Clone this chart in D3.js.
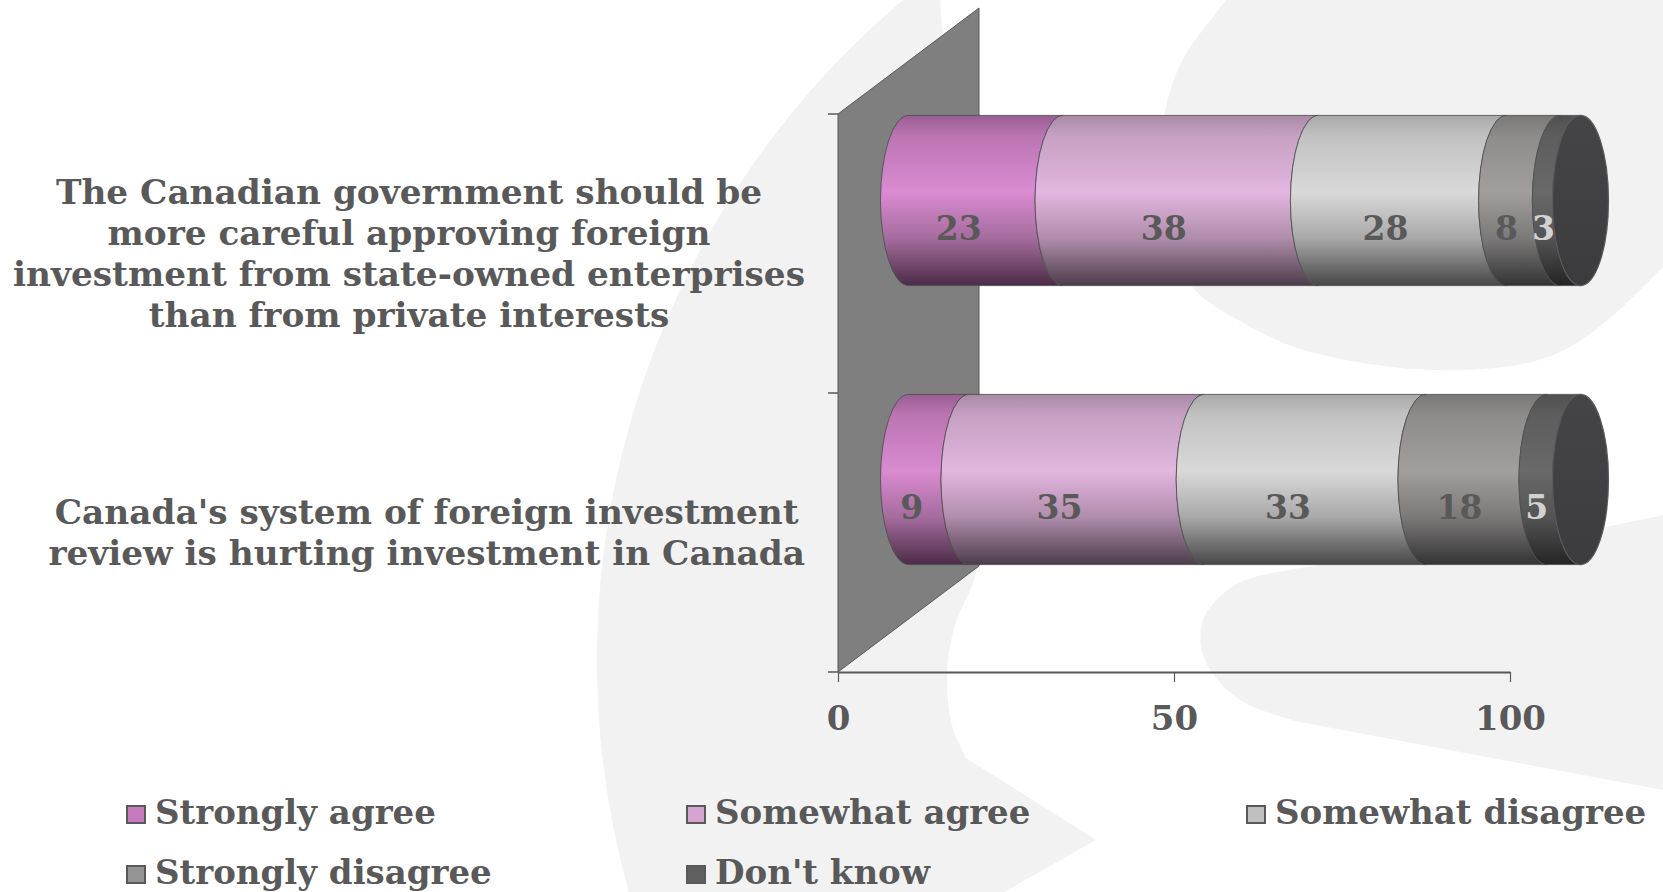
<!DOCTYPE html>
<html>
<head>
<meta charset="utf-8">
<script src="https://cdn.jsdelivr.net/npm/d3@7"></script>
<style>
  html, body { margin: 0; padding: 0; background: #ffffff; }
  svg { display: block; }
</style>
</head>
<body>
<svg id="chart" width="1663" height="892"></svg>
<script>
// ---- Data ---------------------------------------------------------------
const categories = [
  "The Canadian government should be more careful approving foreign investment from state-owned enterprises than from private interests",
  "Canada's system of foreign investment review is hurting investment in Canada"
];
const categoryLines = [
  ["The Canadian government should be", "more careful approving foreign",
   "investment from state-owned enterprises", "than from private interests"],
  ["Canada's system of foreign investment", "review is hurting investment in Canada"]
];
const seriesNames = ["Strongly agree", "Somewhat agree", "Somewhat disagree", "Strongly disagree", "Don't know"];
const stronglyAgree     = [23, 9];
const somewhatAgree     = [38, 35];
const somewhatDisagree  = [28, 33];
const stronglyDisagree  = [8, 18];
const dontKnow          = [3, 5];
const xTicks = [0, 50, 100];

// ---- Styles -------------------------------------------------------------
// gradient stops per series: [top, highlight, lower, bottom]
const seriesShades = [
  ["#9A5E93", "#DA8BD1", "#A56C9E", "#4B2C47"],
  ["#A98AA5", "#E2B6E0", "#B08DAB", "#4C3D4B"],
  ["#A9A9A9", "#D9D9D9", "#A9A9A9", "#474747"],
  ["#7A7777", "#A29E9E", "#7C7979", "#343434"],
  ["#505050", "#6A6969", "#545454", "#242424"]
];
const legendColors = ["#C77BBD", "#D3A5D0", "#C0C0C0", "#959595", "#5F5F5F"];
const labelColors  = ["#595959", "#595959", "#595959", "#595959", "#D2D2D2"];
const textColor = "#595959";
const fontFamily = "'DejaVu Serif', 'Liberation Serif', serif";

// ---- Table for the stack layout -----------------------------------------
const seriesValues = [stronglyAgree, somewhatAgree, somewhatDisagree, stronglyDisagree, dontKnow];
const table = categories.map((c, i) => {
  const row = { category: c };
  seriesNames.forEach((s, k) => { row[s] = seriesValues[k][i]; });
  return row;
});
const stacked = d3.stack().keys(seriesNames)(table);

const svg = d3.select("#chart");

// ---- Background decoration ------------------------------------------------
const bgGray = "#F2F2F2";
const smooth = d3.line().curve(d3.curveCatmullRom.alpha(0.5));
const bg = svg.append("g");
bg.append("circle").attr("cx", 1462).attr("cy", 660).attr("r", 865).attr("fill", bgGray);
const innerEdge = [[940,-10],[940,0],[955,150],[975,350],[985,480],[976,573],[955,625],[947,673],[952,725],[966,758]];
bg.append("path")
  .attr("d", smooth(innerEdge) + "L1096,840L990,900L1700,900L1700,-10Z")
  .attr("fill", "#ffffff");
const blobEdge = [[1250,-30],[1226,0],[1179,67],[1161,133],[1159,167],[1167,233],[1195,290],[1238,320],[1304,350],[1441,370],[1558,353],[1663,267],[1700,220]];
bg.append("path").attr("d", smooth(blobEdge) + "L1700,-30Z").attr("fill", bgGray);
const tongueEdge = [[1700,505],[1663,515],[1560,535],[1420,555],[1300,568],[1235,585],[1203,620],[1205,660],[1240,700],[1300,722]];
bg.append("path").attr("d", smooth(tongueEdge) + "L1700,797Z").attr("fill", bgGray);

// ---- Scales & 3-D projection -----------------------------------------------
const x = d3.scaleLinear().domain([0, 100]).range([838, 1510]);
const y = d3.scaleBand().domain(categories).range([114, 672])
  .paddingInner(0.39).paddingOuter(0.195);
const depthX = 141, depthY = -106;       // full depth of the floor/wall
const barDX = depthX / 2, barDY = depthY / 2; // bars sit mid-depth
const rx = 28;                            // horizontal radius of cylinder ends
const ry = y.bandwidth() / 2;

const xd = v => x(v) + barDX;

// ---- Gradients ------------------------------------------------------------
const defs = svg.append("defs");
seriesShades.forEach((sh, k) => {
  const g = defs.append("linearGradient").attr("id", "grad" + k)
    .attr("x1", 0).attr("y1", 0).attr("x2", 0).attr("y2", 1);
  [[0, sh[0]], [0.12, d3.interpolateRgb(sh[0], sh[1])(0.5)], [0.45, sh[1]],
   [0.72, sh[2]], [1, sh[3]]].forEach(([o, c]) => {
    g.append("stop").attr("offset", o).attr("stop-color", c);
  });
});
const capGrad = defs.append("linearGradient").attr("id", "capGrad")
  .attr("x1", 0).attr("y1", 0).attr("x2", 0).attr("y2", 1);
capGrad.append("stop").attr("offset", 0).attr("stop-color", "#454446");
capGrad.append("stop").attr("offset", 1).attr("stop-color", "#3C3B3D");

// ---- Back wall ------------------------------------------------------------
const yTop = y.range()[0], yBot = y.range()[1];
const wall = d3.path();
wall.moveTo(x(0), yTop);
wall.lineTo(x(0) + depthX, yTop + depthY);
wall.lineTo(x(0) + depthX, yBot + depthY);
wall.lineTo(x(0), yBot);
wall.closePath();
svg.append("path").attr("d", wall.toString())
  .attr("fill", "#7F7F7F").attr("stroke", "#595959").attr("stroke-width", 1);

// category axis ticks at band boundaries
const boundaries = d3.range(categories.length + 1).map(i => yTop + i * y.step());
svg.append("g").selectAll("line").data(boundaries).join("line")
  .attr("x1", x(0) - 10).attr("x2", x(0))
  .attr("y1", d => d).attr("y2", d => d)
  .attr("stroke", "#595959").attr("stroke-width", 1.5);

// ---- Value axis -------------------------------------------------------------
const xAxis = svg.append("g").attr("transform", `translate(0,${yBot})`)
  .call(d3.axisBottom(x).tickValues(xTicks).tickSize(10).tickSizeOuter(0));
xAxis.select(".domain").attr("stroke", "#595959").attr("stroke-width", 2);
xAxis.selectAll(".tick line").attr("stroke", "#595959").attr("stroke-width", 1.2);
xAxis.selectAll(".tick text")
  .attr("y", 58).attr("dy", null)
  .attr("fill", textColor)
  .style("font-family", fontFamily).style("font-weight", "bold").style("font-size", "34px");

// ---- Cylinders ------------------------------------------------------------
function segmentPath(x0, x1, top, bottom) {
  return `M${x0},${top}L${x1},${top}` +
         `A${rx},${ry} 0 0 0 ${x1},${bottom}` +
         `L${x0},${bottom}` +
         `A${rx},${ry} 0 0 1 ${x0},${top}Z`;
}
const bars = svg.append("g");
stacked.forEach((layer, k) => {
  bars.append("g").selectAll("path").data(layer).join("path")
    .attr("d", d => {
      const top = y(d.data.category) + barDY;
      return segmentPath(xd(d[0]), xd(d[1]), top, top + y.bandwidth());
    })
    .attr("fill", `url(#grad${k})`)
    .attr("stroke", "#4E4E4E").attr("stroke-width", 1).attr("stroke-opacity", 0.85);
});
// closed end caps
bars.append("g").selectAll("ellipse").data(table).join("ellipse")
  .attr("cx", d => xd(d3.sum(seriesNames, s => d[s])))
  .attr("cy", d => y(d.category) + barDY + ry)
  .attr("rx", rx).attr("ry", ry)
  .attr("fill", "url(#capGrad)")
  .attr("stroke", "#5A5A5A").attr("stroke-width", 1.2);

// data labels
stacked.forEach((layer, k) => {
  svg.append("g").selectAll("text").data(layer).join("text")
    .attr("x", d => xd((d[0] + d[1]) / 2) - rx + 1)
    .attr("y", d => y(d.data.category) + barDY + ry + 39)
    .attr("text-anchor", "middle")
    .attr("fill", labelColors[k])
    .style("font-family", fontFamily).style("font-weight", "bold").style("font-size", "33px")
    .text(d => d[1] - d[0]);
});

// ---- Category labels --------------------------------------------------------
const labelRight = 805, lineGap = 41;
categories.forEach((c, i) => {
  const lines = categoryLines[i];
  const g = svg.append("g");
  const cy = y(c) + y.bandwidth() / 2;
  const texts = g.selectAll("text").data(lines).join("text")
    .attr("y", (d, j) => cy + (j - (lines.length - 1) / 2) * lineGap + 12)
    .attr("text-anchor", "middle")
    .attr("fill", textColor)
    .style("font-family", fontFamily).style("font-weight", "bold").style("font-size", "34.3px")
    .text(d => d);
  let maxW = 0;
  texts.each(function () { maxW = Math.max(maxW, this.getComputedTextLength()); });
  texts.attr("x", labelRight - maxW / 2);
});

// ---- Legend ---------------------------------------------------------------
const legendCols = [127, 687, 1247];
const legendRows = [824, 884];
const legend = svg.append("g").selectAll("g").data(seriesNames).join("g")
  .attr("transform", (d, i) => `translate(${legendCols[i % 3]},${legendRows[Math.floor(i / 3)]})`);
legend.append("rect")
  .attr("x", 0).attr("y", -18).attr("width", 18).attr("height", 17)
  .attr("fill", (d, i) => legendColors[i])
  .attr("stroke", "#595959").attr("stroke-width", 2);
legend.append("text")
  .attr("x", 28).attr("y", 0)
  .attr("fill", textColor)
  .style("font-family", fontFamily).style("font-weight", "bold").style("font-size", "34px")
  .text(d => d);
</script>
</body>
</html>
